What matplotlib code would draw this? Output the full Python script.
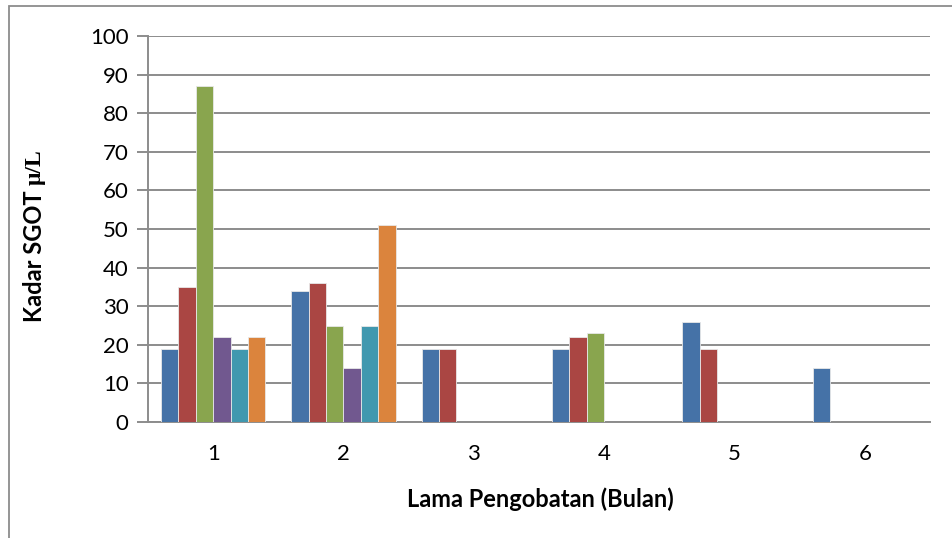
import numpy as np
import matplotlib
matplotlib.use("Agg")
import matplotlib.pyplot as plt
from matplotlib.patches import Rectangle

# SGOT level per month of treatment, one series per patient
months = ["1", "2", "3", "4", "5", "6"]
s1 = [19, 34, 19, 19, 26, 14]
s2 = [35, 36, 19, 22, 19, np.nan]
s3 = [87, 25, np.nan, 23, np.nan, np.nan]
s4 = [22, 14, np.nan, np.nan, np.nan, np.nan]
s5 = [19, 25, np.nan, np.nan, np.nan, np.nan]
s6 = [22, 51, np.nan, np.nan, np.nan, np.nan]
y_ticks = list(range(0, 101, 10))

series = [s1, s2, s3, s4, s5, s6]
colors = ["#4572A7", "#AA4643", "#89A54E", "#71588F", "#4198AF", "#DB843D"]

W, H = 953, 538
fig = plt.figure(figsize=(W / 100, H / 100), dpi=100)
fig.patch.set_facecolor("white")

# outer chart frame
fig.add_artist(Rectangle((9 / W, -0.1), 1.2, 1 - 6 / H + 0.1,
                         transform=fig.transFigure, fill=False,
                         edgecolor="#8c8c8c", lw=1.3))

ax = fig.add_axes([148 / W, (H - 422) / H, (930 - 148) / W, (422 - 36) / H])

x = np.arange(len(months))
bw = 1 / 7.5
for i, (vals, c) in enumerate(zip(series, colors)):
    ax.bar(x + (i - 2.5) * bw, vals, bw, color=c, edgecolor="#e8e8e8",
           linewidth=0.6, zorder=3)

ax.set_xlim(-0.5, len(months) - 0.5)
ax.set_ylim(0, 100)
ax.set_yticks(y_ticks)
ax.set_xticks(x)
ax.set_xticklabels(months)
ax.yaxis.grid(True, color="#8c8c8c", lw=1.4, zorder=0)
ax.set_axisbelow(True)

for side in ["top", "right"]:
    ax.spines[side].set_visible(False)
ax.spines["left"].set_color("#8c8c8c")
ax.spines["bottom"].set_color("#8c8c8c")
ax.spines["left"].set_linewidth(1.4)
ax.spines["bottom"].set_linewidth(1.4)
ax.tick_params(axis="y", length=8, width=1.4, color="#8c8c8c",
               labelsize=16, pad=6)
ax.tick_params(axis="x", length=0, labelsize=16, pad=16)
for lab in ax.get_xticklabels() + ax.get_yticklabels():
    lab.set_family(["Lato", "DejaVu Sans"])

fig.text(540 / W, 1 - 499 / H, "Lama Pengobatan (Bulan)", ha="center",
         va="center", fontsize=17, fontweight="bold",
         family=["Lato", "DejaVu Sans"])

ylab = fig.text(35 / W, 1 - 322 / H, "Kadar SGOT ", rotation=90,
                ha="center", va="bottom", fontsize=17, fontweight="bold",
                family=["Lato", "DejaVu Sans"])
ax.annotate("\u03bc/L", xy=(0.5, 1), xycoords=ylab, rotation=90,
            ha="center", va="bottom", fontsize=17, fontweight="bold",
            family=["Liberation Serif", "DejaVu Serif"])

fig.savefig("out.png", dpi=100)
